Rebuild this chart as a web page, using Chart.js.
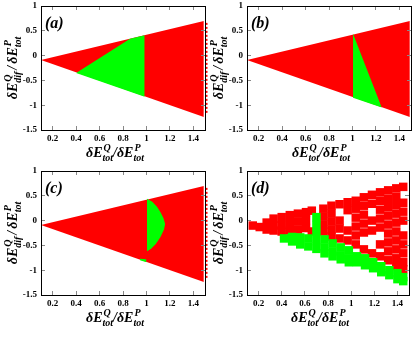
<!DOCTYPE html>
<html><head><meta charset="utf-8">
<script src="https://cdn.jsdelivr.net/npm/chart.js@4.4.0/dist/chart.umd.min.js"></script>
<style>
html,body{margin:0;padding:0;background:#fff;}
#wrap{position:relative;width:415px;height:337px;overflow:hidden;background:#fff;}
canvas{position:absolute;}
.frame{position:absolute;box-sizing:border-box;border:1px solid #000;pointer-events:none;}
</style></head><body>
<div id="wrap">
<canvas id="ca" width="209" height="172" style="left:0;top:0"></canvas>
<canvas id="cb" width="209" height="172" style="left:206px;top:0"></canvas>
<canvas id="cc" width="209" height="172" style="left:0;top:165px"></canvas>
<canvas id="cd" width="209" height="172" style="left:206px;top:165px"></canvas>
</div>
<script>
// ---- tick labels ----
const xTicks = [0.2, 0.4, 0.6, 0.8, 1, 1.2, 1.4];
const yTicks = [1, 0.5, 0, -0.5, -1, -1.5];
const panelLabels = ['(a)', '(b)', '(c)', '(d)'];

// ---- red wedge (panels a-c): upper and lower boundary ----
const wedgeUpper = [{x:0.1,y:-0.09},{x:1.49,y:0.70}];
const wedgeLower = [{x:0.1,y:-0.09},{x:1.49,y:-1.24}];
const wedgeSpill = [{x:1.515,y:0.66},{x:1.515,y:-1.18}];

// ---- green region, panel a ----
const greenAUpper = [{x:0.40,y:-0.35},{x:0.86,y:0.34},{x:0.985,y:0.41}];
const greenALower = [{x:0.40,y:-0.35},{x:0.985,y:-0.83}];
// ---- green region, panel b ----
const greenBUpper = [{x:1.005,y:0.44},{x:1.25,y:-1.045}];
const greenBLower = [{x:1.005,y:-0.85},{x:1.25,y:-1.045}];
// ---- green region, panel c ----
const greenCUpper = [{x:1.005,y:0.44},{x:1.05,y:0.38},{x:1.09,y:0.28},{x:1.12,y:0.17},{x:1.145,y:0.05},{x:1.16,y:-0.07}];
const greenCLower = [{x:1.005,y:-0.62},{x:1.04,y:-0.57},{x:1.08,y:-0.47},{x:1.12,y:-0.33},{x:1.15,y:-0.18},{x:1.16,y:-0.07}];
const greenCSmallUpper = [{x:0.945,y:-0.77},{x:1.0,y:-0.78}];
const greenCSmallLower = [{x:0.945,y:-0.80},{x:1.0,y:-0.84}];

// ---- panel d: scattered squares ----
const redD = [
 [0.15,-0.10],[0.21,-0.13],[0.27,-0.04],[0.27,-0.18],[0.33,0.04],[0.33,-0.10],[0.33,-0.20],
 [0.40,0.07],[0.40,-0.09],[0.40,-0.22],[0.47,0.11],[0.47,-0.05],[0.47,-0.20],
 [0.54,0.14],[0.54,-0.02],[0.54,-0.18],[0.61,0.17],[0.61,0.01],[0.61,-0.15],[0.66,0.20],[0.66,-0.22],
 [0.76,0.24],[0.76,0.08],[0.76,-0.08],[0.76,-0.22],
 [0.83,0.30],[0.83,0.14],[0.83,-0.02],[0.83,-0.18],[0.83,-0.32],
 [0.90,0.33],[0.90,0.00],[0.90,-0.16],[0.90,-0.36],
 [0.97,0.37],[0.97,0.21],[0.97,-0.20],[0.97,-0.40],
 [1.04,0.40],[1.04,0.24],[1.04,0.06],[1.04,-0.12],[1.04,-0.30],[1.04,-0.48],
 [1.11,0.47],[1.11,0.30],[1.11,0.12],[1.11,-0.06],[1.11,-0.24],[1.11,-0.58],
 [1.18,0.52],[1.18,0.34],[1.18,0.00],[1.18,-0.20],[1.18,-0.66],
 [1.25,0.57],[1.25,0.40],[1.25,0.22],[1.25,0.04],[1.25,-0.14],[1.25,-0.48],[1.25,-0.72],
 [1.32,0.61],[1.32,0.44],[1.32,0.27],[1.32,0.10],[1.32,-0.08],[1.32,-0.26],[1.32,-0.44],[1.32,-0.62],[1.32,-0.80],
 [1.39,0.65],[1.39,0.48],[1.39,0.31],[1.39,0.14],[1.39,-0.04],[1.39,-0.22],[1.39,-0.40],[1.39,-0.58],[1.39,-0.76],[1.39,-0.92],
 [1.45,0.68],[1.45,0.36],[1.45,0.18],[1.45,0.00],[1.45,-0.30],[1.45,-0.48],[1.45,-0.66],[1.45,-0.84],[1.45,-0.98]
];
const greenD = [
 [0.42,-0.36],[0.49,-0.33],[0.49,-0.42],[0.56,-0.34],[0.56,-0.48],[0.63,-0.36],[0.63,-0.52],
 [0.70,0.07],[0.70,-0.09],[0.70,-0.25],[0.70,-0.41],[0.70,-0.57],
 [0.77,-0.38],[0.77,-0.54],[0.77,-0.66],[0.84,-0.46],[0.84,-0.62],[0.84,-0.72],
 [0.91,-0.54],[0.91,-0.70],[0.91,-0.78],[0.98,-0.60],[0.98,-0.76],[0.98,-0.84],
 [1.05,-0.72],[1.05,-0.84],[1.12,-0.76],[1.12,-0.90],[1.19,-0.84],[1.19,-0.96],
 [1.26,-0.92],[1.26,-1.04],[1.33,-1.00],[1.33,-1.10],[1.40,-1.06],[1.40,-1.18],[1.45,-1.14],[1.45,-1.22]
];

const RED = '#ff0000', GREEN = '#00ff00';
const SERIF = '"Liberation Serif", "Times New Roman", serif';

function area(upper, lower, color) {
  return [
    {data: upper, showLine: true, fill: '+1', backgroundColor: color, borderColor: 'rgba(0,0,0,0)', borderWidth: 0, pointRadius: 0, tension: 0},
    {data: lower, showLine: true, fill: false, backgroundColor: color, borderColor: 'rgba(0,0,0,0)', borderWidth: 0, pointRadius: 0, tension: 0}
  ];
}
function squares(list, color) {
  return {data: list.map(p => ({x: p[0], y: p[1]})), showLine: false, pointStyle: 'rect', pointRadius: 6.0,
          backgroundColor: color, borderColor: color, borderWidth: 0, pointBorderWidth: 0};
}
function spill() {
  return {data: wedgeSpill, showLine: true, fill: false, borderColor: RED, borderWidth: 1.5, borderDash: [2, 2],
          pointRadius: 0, clip: false};
}

function drawMath(ctx, parts, cx, cy, rot) {
  const mainF = 'italic bold 14px ' + SERIF;
  const smallF = 'italic bold 10px ' + SERIF;
  const ws = [];
  let total = 0;
  for (const p of parts) {
    ctx.font = mainF;
    const mw = ctx.measureText(p.main).width;
    ctx.font = smallF;
    let sw = 0;
    if (p.sup) sw = Math.max(sw, ctx.measureText(p.sup).width + 1);
    if (p.sub) sw = Math.max(sw, ctx.measureText(p.sub).width);
    ws.push([mw, sw]);
    total += mw + sw + (p.gap || 0);
  }
  ctx.save();
  ctx.translate(cx, cy);
  ctx.rotate(rot);
  ctx.fillStyle = '#000';
  ctx.textAlign = 'left';
  ctx.textBaseline = 'alphabetic';
  let x = -total / 2;
  parts.forEach((p, i) => {
    ctx.font = mainF;
    ctx.fillText(p.main, x, 0);
    x += ws[i][0];
    ctx.font = smallF;
    if (p.sup) ctx.fillText(p.sup, x + 1, -6);
    if (p.sub) ctx.fillText(p.sub, x, 4);
    x += ws[i][1] + (p.gap || 0);
  });
  ctx.restore();
}

const xTitle = [{main:'δE', sup:'Q', sub:'tot'}, {main:'/'}, {main:'δE', sup:'P', sub:'tot'}];
const yTitle = [{main:'δE', sup:'Q', sub:'dif', gap:2}, {main:'/', gap:2}, {main:'δE', sup:'P', sub:'tot'}];

const decorPlugin = {
  id: 'decor',
  afterDraw(chart, args, opts) {
    const ctx = chart.ctx;
    const a = chart.chartArea;
    ctx.save();
    ctx.fillStyle = '#000';
    ctx.font = 'italic bold 16px ' + SERIF;
    ctx.textAlign = 'left';
    ctx.textBaseline = 'alphabetic';
    ctx.fillText(opts.label, a.left + 4, a.top + 22);
    ctx.restore();
    drawMath(ctx, xTitle, (a.left + a.right) / 2 - 8, a.bottom + 27, 0);
    drawMath(ctx, yTitle, 17, (a.top + a.bottom) / 2, -Math.PI / 2);
  }
};

const tickFont = {family: SERIF, weight: 'bold', size: 9};
const gridIn = {display: true, drawOnChartArea: false, drawTicks: true, tickLength: -4, tickColor: '#888', color: '#888', lineWidth: 1, z: 1};
const borderBlack = {display: true, color: '#000', width: 1, z: 2};
function fixH(h) { return s => { s.height = h; s.paddingLeft = 0; s.paddingRight = 0; s.paddingTop = 0; s.paddingBottom = 0; }; }
function fixW(w) { return s => { s.width = w; s.paddingLeft = 0; s.paddingRight = 0; s.paddingTop = 0; s.paddingBottom = 0; }; }

function addFrame(chart, canvas) {
  const a = chart.chartArea;
  const L = Math.round(a.left), T = Math.round(a.top), R = Math.round(a.right), B = Math.round(a.bottom);
  const d = document.createElement('div');
  d.className = 'frame';
  d.style.left = (canvas.offsetLeft + L) + 'px';
  d.style.top = (canvas.offsetTop + T) + 'px';
  d.style.width = (R - L + 1) + 'px';
  d.style.height = (B - T + 1) + 'px';
  document.getElementById('wrap').appendChild(d);
}

function makeChart(id, datasets, label) {
  const canvas = document.getElementById(id);
  const chart = new Chart(canvas, {
    type: 'line',
    data: {datasets},
    options: {
      responsive: false,
      animation: false,
      events: [],
      layout: {padding: {left: 0, top: 5, right: 3, bottom: 0}},
      plugins: {legend: {display: false}, tooltip: {enabled: false}, decor: {label}},
      scales: {
        x: {
          type: 'linear', position: 'bottom', min: 0.1, max: 1.5,
          grid: gridIn, border: borderBlack,
          afterBuildTicks: s => { s.ticks = xTicks.map(v => ({value: v})); },
          afterFit: fixH(42),
          ticks: {color: '#000', padding: 7, font: tickFont, callback: v => String(v)}
        },
        x2: {
          type: 'linear', position: 'top', min: 0.1, max: 1.5, display: true,
          grid: gridIn, border: borderBlack,
          afterBuildTicks: s => { s.ticks = xTicks.map(v => ({value: v})); },
          afterFit: fixH(1),
          ticks: {display: false}
        },
        y: {
          type: 'linear', position: 'left', min: -1.5, max: 1,
          grid: gridIn, border: borderBlack,
          afterBuildTicks: s => { s.ticks = yTicks.map(v => ({value: v})); },
          afterFit: fixW(41),
          ticks: {color: '#000', padding: 8, font: tickFont, callback: v => String(v)}
        },
        y2: {
          type: 'linear', position: 'right', min: -1.5, max: 1, display: true,
          grid: gridIn, border: borderBlack,
          afterBuildTicks: s => { s.ticks = yTicks.map(v => ({value: v})); },
          afterFit: fixW(1),
          ticks: {display: false}
        }
      }
    },
    plugins: [decorPlugin]
  });
  addFrame(chart, canvas);
}

makeChart('ca', [...area(greenAUpper, greenALower, GREEN), ...area(wedgeUpper, wedgeLower, RED), spill()], panelLabels[0]);
makeChart('cb', [...area(greenBUpper, greenBLower, GREEN), ...area(wedgeUpper, wedgeLower, RED)], panelLabels[1]);
makeChart('cc', [...area(greenCUpper, greenCLower, GREEN), ...area(greenCSmallUpper, greenCSmallLower, GREEN), ...area(wedgeUpper, wedgeLower, RED), spill()], panelLabels[2]);
makeChart('cd', [squares(greenD, GREEN), squares(redD, RED)], panelLabels[3]);
</script>
</body></html>
